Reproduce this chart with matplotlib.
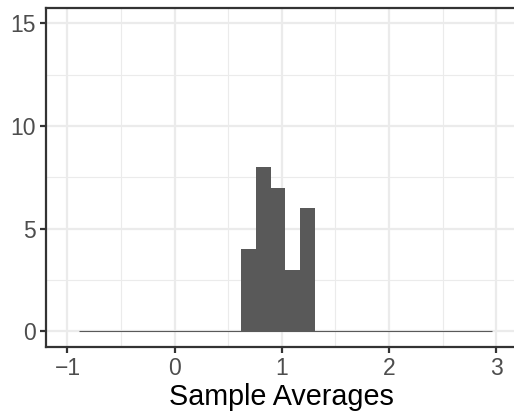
import matplotlib
matplotlib.use("Agg")
import matplotlib.pyplot as plt
import numpy as np

# histogram: 28 bins from -0.895 to 2.96
bin_start = -0.895
bin_width = 0.1377
counts = [0] * 11 + [4, 8, 7, 3, 6] + [0] * 12
x_ticks = [-1, 0, 1, 2, 3]
y_ticks = [0, 5, 10, 15]
x_label = "Sample Averages"

plt.rcParams['font.family'] = ['Liberation Sans', 'DejaVu Sans']

fig = plt.figure(figsize=(5.14, 4.17), dpi=100)
W, H = 514, 417
ax = fig.add_axes([46 / W, 70.3 / H, (517.7 - 46) / W, 338.7 / H])

edges = bin_start + bin_width * np.arange(len(counts) + 1)
ax.bar(edges[:-1], counts, width=bin_width, align='edge', color='#595959', linewidth=0)
ax.hlines(0, edges[0], edges[-1], color='#595959', lw=0.8, zorder=3)

ax.set_xlim(-1.2, 3.2)
ax.set_ylim(-0.75, 15.75)
ax.set_xticks(x_ticks)
ax.set_xticklabels(['\u22121', '0', '1', '2', '3'])
ax.set_yticks(y_ticks)
ax.set_xticks(np.arange(-0.5, 3.0, 1.0), minor=True)
ax.set_yticks([2.5, 7.5, 12.5], minor=True)

ax.grid(True, which='major', color='#ebebeb', lw=1.6, zorder=0)
ax.grid(True, which='minor', color='#ebebeb', lw=0.8, zorder=0)
ax.set_axisbelow(True)

for s in ax.spines.values():
    s.set_color('#333333')
    s.set_linewidth(1.6)
ax.spines['right'].set_visible(False)

ax.tick_params(which='major', length=4.5, width=1.6, color='#333333',
               labelsize=16.5, labelcolor='#4d4d4d', pad=3)
ax.tick_params(which='minor', length=0)

ax.set_xlabel(x_label, fontsize=20.7, color='black', labelpad=2)

fig.savefig('out.png', dpi=100)
